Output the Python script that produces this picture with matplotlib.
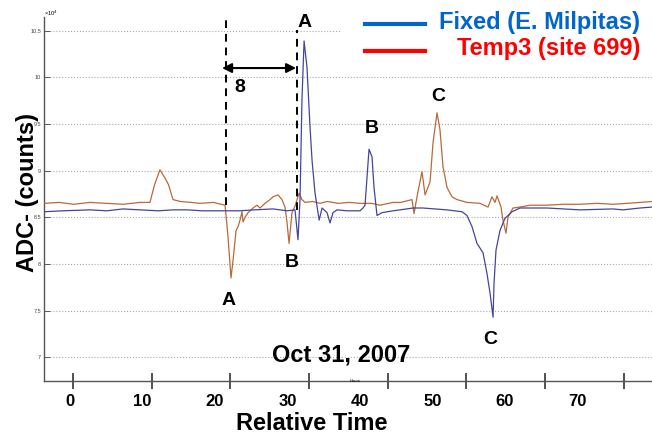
import matplotlib
matplotlib.use("Agg")
import matplotlib.pyplot as plt
from matplotlib.patches import Rectangle
from matplotlib.lines import Line2D

plt.rcParams['font.family'] = ['Liberation Sans', 'DejaVu Sans']

# relative time (hours) and ADC counts (x 1e4)
temp3_t = [-3.59, -1.52, 0.51, 2.74, 5.07, 7.30, 9.63, 11.03, 11.66, 12.41, 13.11, 13.59,
           14.21, 15.21, 16.73, 17.94, 19.77, 21.39, 21.80, 22.21, 22.49, 22.91, 23.18,
           23.45, 23.73, 23.87, 24.14, 24.56, 25.25, 25.80, 26.21, 26.90, 27.59, 28.01,
           28.70, 29.24, 29.66, 29.93, 30.22, 30.62, 31.04, 31.60, 32.00, 32.42, 33.46,
           34.48, 35.49, 37.01, 38.53, 40.05, 41.57, 42.77, 44.56, 45.63, 47.18, 47.46,
           47.87, 48.56, 48.98, 49.67, 50.08, 50.63, 51.04, 51.46, 52.01, 52.70, 53.39,
           54.77, 56.56, 57.67, 58.21, 58.63, 58.91, 59.46, 59.73, 60.15, 60.42, 61.11,
           62.08, 63.47, 65.81, 68.01, 70.36, 72.70, 74.91, 76.84, 78.64, 80.29]
temp3_adc = [8.65, 8.66, 8.64, 8.66, 8.65, 8.64, 8.66, 8.66, 8.85, 9.01, 8.92, 8.85,
             8.69, 8.67, 8.66, 8.65, 8.66, 8.63, 8.29, 7.85, 8.04, 8.36, 8.40,
             8.47, 8.56, 8.45, 8.50, 8.55, 8.60, 8.63, 8.60, 8.65, 8.69, 8.72,
             8.74, 8.69, 8.61, 8.45, 8.22, 8.55, 8.62, 8.76, 8.69, 8.66, 8.67,
             8.65, 8.67, 8.65, 8.66, 8.65, 8.65, 8.63, 8.66, 8.66, 8.69, 8.54,
             8.72, 8.99, 8.74, 8.88, 9.30, 9.62, 9.44, 9.04, 8.82, 8.72, 8.69,
             8.66, 8.65, 8.61, 8.72, 8.66, 8.73, 8.61, 8.47, 8.33, 8.50, 8.60,
             8.61, 8.63, 8.63, 8.64, 8.64, 8.65, 8.64, 8.65, 8.66, 8.67]

fixed_t = [-3.59, -1.01, 2.76, 5.07, 7.31, 9.63, 12.17, 14.21, 16.22, 18.25, 21.39, 23.45,
           25.35, 28.01, 29.93, 31.04, 31.45, 31.73, 32.00, 32.29, 32.69, 33.11, 33.39,
           33.80, 34.37, 34.77, 35.46, 35.87, 36.28, 36.84, 38.22, 40.01, 40.42, 40.70,
           41.25, 41.66, 41.94, 42.35, 43.04, 44.57, 45.53, 47.32, 48.67, 52.01, 54.08,
           54.77, 55.46, 56.15, 56.98, 57.52, 57.94, 58.36, 58.50, 58.77, 59.32, 60.01,
           60.98, 62.08, 65.81, 70.36, 74.91, 76.29, 78.64, 80.29]
fixed_adc = [8.56, 8.57, 8.58, 8.57, 8.59, 8.58, 8.57, 8.58, 8.58, 8.57, 8.57, 8.57,
             8.58, 8.59, 8.57, 8.58, 8.26, 8.69, 9.76, 10.39, 10.11, 9.47, 9.11,
             8.76, 8.47, 8.60, 8.55, 8.44, 8.55, 8.58, 8.57, 8.57, 8.60, 8.63,
             9.23, 9.15, 8.82, 8.52, 8.55, 8.57, 8.58, 8.60, 8.60, 8.58, 8.56,
             8.52, 8.40, 8.22, 8.12, 7.90, 7.69, 7.43, 7.80, 8.15, 8.36, 8.49,
             8.56, 8.60, 8.60, 8.58, 8.59, 8.58, 8.60, 8.61]

x_labels = [0, 10, 20, 30, 40, 50, 60, 70]
y_ticks = [7, 7.5, 8, 8.5, 9, 9.5, 10, 10.5]
y_ticklabels = ["7", "7.5", "8", "8.5", "9", "9.5", "10", "10.5"]

# event markers: (label, time, adc)
events = [("A", 21.93, 7.61), ("B", 30.62, 8.02), ("A", 32.42, 10.59),
          ("B", 41.66, 9.45), ("C", 50.77, 9.79), ("C", 57.94, 7.19)]
lag_start, lag_end = 21.52, 31.31

fig = plt.figure(figsize=(6.52, 4.37), dpi=100)
ax = fig.add_axes([44/652, 56/437, 608/652, 364/437])

ax.plot(temp3_t, temp3_adc, color='#b86a3a', lw=0.9, zorder=3)
ax.plot(fixed_t, fixed_adc, color='#45459e', lw=0.9, zorder=3)

ax.set_xlim(-3.59, 80.29)
ax.set_ylim(6.746, 10.647)

ax.set_yticks(y_ticks)
ax.set_yticklabels(y_ticklabels, fontsize=4)
ax.yaxis.grid(True, linestyle=':', color='#aaaaaa', lw=0.8)
ax.tick_params(axis='y', direction='in', length=4, width=0.6, pad=2, colors='#444444')

ax.set_xticks(x_labels)
ax.set_xticklabels([str(v) for v in x_labels], fontsize=12, fontweight='bold')
ax.set_xticks([0.41 + 10.85 * k for k in range(8)], minor=True)
ax.tick_params(axis='x', which='major', length=0, pad=9)
ax.tick_params(axis='x', which='minor', direction='inout', length=12, width=1.2,
               color='#333333')

for s in ['top', 'right']:
    ax.spines[s].set_visible(False)
for s in ['left', 'bottom']:
    ax.spines[s].set_color('#555555')
    ax.spines[s].set_linewidth(1.0)

ax.set_xlabel("Relative Time", fontsize=17, fontweight='bold')
ax.xaxis.set_label_coords((312 - 44) / 608, -(424 - 381) / 364)
ax.xaxis.label.set_va('center')
ax.set_ylabel("ADC- (counts)", fontsize=17, fontweight='bold')
ax.yaxis.set_label_coords((28 - 44) / 608, (381 - 192) / 364)
ax.yaxis.label.set_va('center')

fig.text(44/652, 1 - 13/437, "×10$^4$", fontsize=4, ha='left', va='center')
ax.text(39.3, 6.77, "Hours", fontsize=3, ha='center', va='top')

# lag markers
ax.plot([lag_start, lag_start], [8.63, 10.67], ls=(0, (4, 3)), color='black', lw=1.4,
        clip_on=False, zorder=4)
ax.plot([lag_end, lag_end], [8.58, 10.51], ls=(0, (4, 3)), color='black', lw=1.4,
        zorder=4)
ax.annotate("", xy=(20.97, 10.10), xytext=(31.19, 10.10),
            arrowprops=dict(arrowstyle='<|-|>', color='black', lw=1.5,
                            mutation_scale=14, shrinkA=0, shrinkB=0))
ax.text(23.45, 9.89, "8", fontsize=14, fontweight='bold', ha='center', va='center')

for lab, t, v in events:
    ax.text(t, v, lab, fontsize=14, fontweight='bold', ha='center', va='center', zorder=5)

ax.text(37.39, 7.02, "Oct 31, 2007", fontsize=17, fontweight='bold',
        ha='center', va='center', zorder=5)

# legend block pasted over the plot
fig.add_artist(Rectangle((342/652, 1 - 62/437), 310/652, 62/437,
                         transform=fig.transFigure, facecolor='white',
                         edgecolor='none', zorder=5))
fig.add_artist(Line2D([365/652, 425/652], [1 - 24/437, 1 - 24/437],
                      transform=fig.transFigure, color='#0066cc', lw=3, zorder=6))
fig.add_artist(Line2D([365/652, 425/652], [1 - 51/437, 1 - 51/437],
                      transform=fig.transFigure, color='#ff0000', lw=3, zorder=6))
fig.text(640/652, 1 - 23/437, "Fixed (E. Milpitas)", color='#0066cc', fontsize=17,
         fontweight='bold', ha='right', va='center', zorder=7)
fig.text(640/652, 1 - 48/437, "Temp3 (site 699)", color='#ff0000', fontsize=17,
         fontweight='bold', ha='right', va='center', zorder=7)

fig.savefig("out.png", dpi=100)
